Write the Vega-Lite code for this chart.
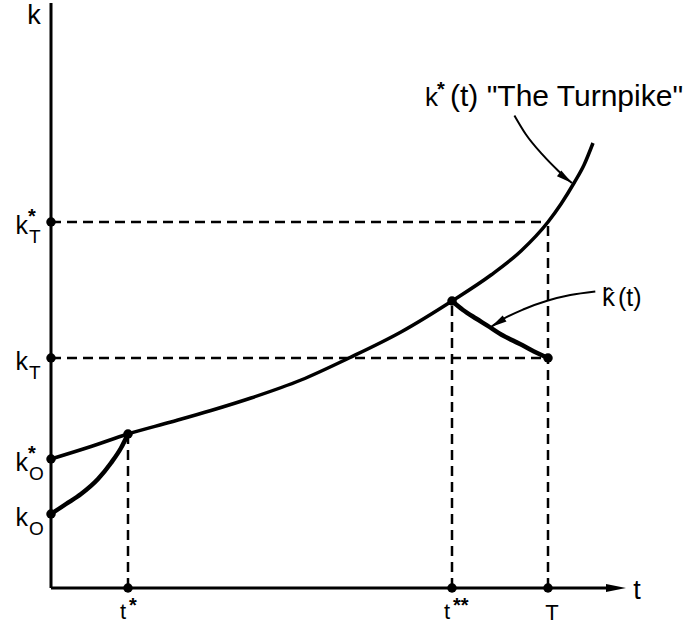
{
  "$schema": "https://vega.github.io/schema/vega-lite/v6.json",
  "width": 694,
  "height": 626,
  "autosize": "none",
  "padding": 0,
  "config": {
    "view": {"stroke": null},
    "text": {"font": "Liberation Sans", "color": "black"}
  },
  "datasets": {
    "axes": [
      {"t": 0, "k": 0, "t2": 0, "k2": 585},
      {"t": 0, "k": 0, "t2": 560, "k2": 0}
    ],
    "guides": [
      {"t": 0, "k": 366, "t2": 497, "k2": 366},
      {"t": 0, "k": 230, "t2": 497, "k2": 230},
      {"t": 77, "k": 0, "t2": 77, "k2": 154},
      {"t": 401, "k": 0, "t2": 401, "k2": 287},
      {"t": 497, "k": 0, "t2": 497, "k2": 366}
    ],
    "curves": [
      {"curve": "turnpike", "t": 0, "k": 129},
      {"curve": "turnpike", "t": 40, "k": 141.5},
      {"curve": "turnpike", "t": 77, "k": 154},
      {"curve": "turnpike", "t": 120, "k": 166},
      {"curve": "turnpike", "t": 160, "k": 177.5},
      {"curve": "turnpike", "t": 200, "k": 190},
      {"curve": "turnpike", "t": 250, "k": 208},
      {"curve": "turnpike", "t": 298, "k": 230},
      {"curve": "turnpike", "t": 350, "k": 256},
      {"curve": "turnpike", "t": 401, "k": 287},
      {"curve": "turnpike", "t": 440, "k": 313},
      {"curve": "turnpike", "t": 470, "k": 337},
      {"curve": "turnpike", "t": 497, "k": 366},
      {"curve": "turnpike", "t": 510, "k": 384},
      {"curve": "turnpike", "t": 523, "k": 405},
      {"curve": "turnpike", "t": 533, "k": 423},
      {"curve": "turnpike", "t": 542, "k": 445}
    ],
    "branches": [
      {"curve": "from_k0", "t": 0, "k": 74},
      {"curve": "from_k0", "t": 15, "k": 84},
      {"curve": "from_k0", "t": 30, "k": 94},
      {"curve": "from_k0", "t": 47, "k": 109},
      {"curve": "from_k0", "t": 60, "k": 125},
      {"curve": "from_k0", "t": 70, "k": 140},
      {"curve": "from_k0", "t": 77, "k": 154},
      {"curve": "khat", "t": 401, "k": 287},
      {"curve": "khat", "t": 412, "k": 278},
      {"curve": "khat", "t": 425, "k": 269.5},
      {"curve": "khat", "t": 436, "k": 262.7},
      {"curve": "khat", "t": 452, "k": 252.5},
      {"curve": "khat", "t": 469, "k": 244},
      {"curve": "khat", "t": 483, "k": 236.5},
      {"curve": "khat", "t": 497, "k": 230}
    ],
    "pointers": [
      {"arrow": "turnpike", "t": 463.5, "k": 472.4},
      {"arrow": "turnpike", "t": 474.8, "k": 453.8},
      {"arrow": "turnpike", "t": 491.3, "k": 433.6},
      {"arrow": "turnpike", "t": 507.7, "k": 416.8},
      {"arrow": "turnpike", "t": 520.9, "k": 404.9},
      {"arrow": "khat", "t": 544.3, "k": 296.5},
      {"arrow": "khat", "t": 519.3, "k": 292.9},
      {"arrow": "khat", "t": 496.2, "k": 287.2},
      {"arrow": "khat", "t": 472.1, "k": 278.5},
      {"arrow": "khat", "t": 451.9, "k": 268.8},
      {"arrow": "khat", "t": 440, "k": 261}
    ],
    "heads": [
      {"head": "axis", "t": 575, "k": 0},
      {"head": "turnpike", "t": 520.9, "k": 404.9},
      {"head": "khat", "t": 440, "k": 261}
    ],
    "dots": [
      {"t": 0, "k": 366},
      {"t": 0, "k": 230},
      {"t": 0, "k": 129},
      {"t": 0, "k": 74},
      {"t": 77, "k": 154},
      {"t": 401, "k": 287},
      {"t": 497, "k": 230},
      {"t": 77, "k": 0},
      {"t": 401, "k": 0},
      {"t": 497, "k": 0}
    ],
    "kticks": [
      {"t": 0, "k": 366, "base": "k", "sup": "*", "sub": "T"},
      {"t": 0, "k": 230, "base": "k", "sub": "T"},
      {"t": 0, "k": 129, "base": "k", "sup": "*", "sub": "O"},
      {"t": 0, "k": 74, "base": "k", "sub": "O"}
    ],
    "tticks": [
      {"t": 77, "k": 0, "base": "t", "sup": "*"},
      {"t": 401, "k": 0, "base": "t", "sup": "**"},
      {"t": 497, "k": 0, "base": "T"}
    ],
    "axisnames": [
      {"name": "k", "t": -17, "k": 564},
      {"name": "t", "t": 586, "k": -11}
    ],
    "notes": [
      {"note": "turnpike", "t": 374, "k": 482, "base": "k", "sup": "*", "rest": "(t) \"The Turnpike\""},
      {"note": "khat", "t": 551, "k": 282, "base": "k̂", "rest": "(t)"}
    ]
  },
  "encoding": {
    "x": {"field": "t", "type": "quantitative", "scale": {"domain": [-51, 643], "nice": false, "zero": false}, "axis": null},
    "y": {"field": "k", "type": "quantitative", "scale": {"domain": [-38, 588], "nice": false, "zero": false}, "axis": null}
  },
  "layer": [
    {
      "data": {"name": "axes"},
      "mark": {"type": "rule", "strokeWidth": 3, "color": "black"},
      "encoding": {"x2": {"field": "t2"}, "y2": {"field": "k2"}}
    },
    {
      "data": {"name": "guides"},
      "mark": {"type": "rule", "strokeWidth": 2.5, "strokeDash": [10, 6], "color": "black"},
      "encoding": {"x2": {"field": "t2"}, "y2": {"field": "k2"}}
    },
    {
      "data": {"name": "curves"},
      "mark": {"type": "line", "strokeWidth": 3.5, "interpolate": "monotone", "color": "black"},
      "encoding": {"detail": {"field": "curve"}}
    },
    {
      "data": {"name": "branches"},
      "mark": {"type": "line", "strokeWidth": 4.5, "interpolate": "monotone", "color": "black"},
      "encoding": {"detail": {"field": "curve"}}
    },
    {
      "data": {"name": "pointers"},
      "mark": {"type": "line", "strokeWidth": 2, "interpolate": "monotone", "color": "black"},
      "encoding": {"detail": {"field": "arrow"}}
    },
    {
      "data": {"name": "heads"},
      "transform": [{"filter": "datum.head === 'axis'"}],
      "mark": {"type": "point", "shape": "M 0 0 L -2 -0.4 L -2 0.4 Z", "filled": true, "size": 400, "angle": 0, "color": "black", "opacity": 1, "strokeWidth": 0}
    },
    {
      "data": {"name": "heads"},
      "transform": [{"filter": "datum.head === 'turnpike'"}],
      "mark": {"type": "point", "shape": "M 0 0 L -2 -0.45 L -2 0.45 Z", "filled": true, "size": 256, "angle": 37, "color": "black", "opacity": 1, "strokeWidth": 0}
    },
    {
      "data": {"name": "heads"},
      "transform": [{"filter": "datum.head === 'khat'"}],
      "mark": {"type": "point", "shape": "M 0 0 L -2 -0.45 L -2 0.45 Z", "filled": true, "size": 256, "angle": 148, "color": "black", "opacity": 1, "strokeWidth": 0}
    },
    {
      "data": {"name": "dots"},
      "mark": {"type": "circle", "size": 90, "color": "black", "opacity": 1}
    },
    {
      "data": {"name": "kticks"},
      "mark": {"type": "text", "align": "right", "baseline": "alphabetic", "dx": -23, "dy": 12, "fontSize": 25},
      "encoding": {"text": {"field": "base"}}
    },
    {
      "data": {"name": "kticks"},
      "transform": [{"filter": "datum.sup"}],
      "mark": {"type": "text", "align": "left", "baseline": "alphabetic", "dx": -23, "dy": 1, "fontSize": 20, "fontWeight": "bold"},
      "encoding": {"text": {"field": "sup"}}
    },
    {
      "data": {"name": "kticks"},
      "mark": {"type": "text", "align": "left", "baseline": "alphabetic", "dx": -22, "dy": 21, "fontSize": 19},
      "encoding": {"text": {"field": "sub"}}
    },
    {
      "data": {"name": "tticks"},
      "transform": [{"filter": "datum.sup"}],
      "mark": {"type": "text", "align": "center", "baseline": "alphabetic", "dx": -5, "dy": 31, "fontSize": 22},
      "encoding": {"text": {"field": "base"}}
    },
    {
      "data": {"name": "tticks"},
      "transform": [{"filter": "!datum.sup"}],
      "mark": {"type": "text", "align": "center", "baseline": "alphabetic", "dx": 4, "dy": 32, "fontSize": 22},
      "encoding": {"text": {"field": "base"}}
    },
    {
      "data": {"name": "tticks"},
      "transform": [{"filter": "datum.sup"}],
      "mark": {"type": "text", "align": "left", "baseline": "alphabetic", "dx": 1, "dy": 24, "fontSize": 20, "fontWeight": "bold"},
      "encoding": {"text": {"field": "sup"}}
    },
    {
      "data": {"name": "axisnames"},
      "mark": {"type": "text", "align": "center", "baseline": "alphabetic", "fontSize": 27},
      "encoding": {"text": {"field": "name"}}
    },
    {
      "data": {"name": "notes"},
      "mark": {"type": "text", "align": "left", "baseline": "alphabetic", "fontSize": 26},
      "encoding": {"text": {"field": "base"}}
    },
    {
      "data": {"name": "notes"},
      "transform": [{"filter": "datum.sup"}],
      "mark": {"type": "text", "align": "left", "baseline": "alphabetic", "dx": 12, "dy": -10, "fontSize": 20, "fontWeight": "bold"},
      "encoding": {"text": {"field": "sup"}}
    },
    {
      "data": {"name": "notes"},
      "transform": [{"filter": "datum.note === 'turnpike'"}],
      "mark": {"type": "text", "align": "left", "baseline": "alphabetic", "dx": 25, "fontSize": 30},
      "encoding": {"text": {"field": "rest"}}
    },
    {
      "data": {"name": "notes"},
      "transform": [{"filter": "datum.note === 'khat'"}],
      "mark": {"type": "text", "align": "left", "baseline": "alphabetic", "dx": 16, "fontSize": 25},
      "encoding": {"text": {"field": "rest"}}
    }
  ]
}
